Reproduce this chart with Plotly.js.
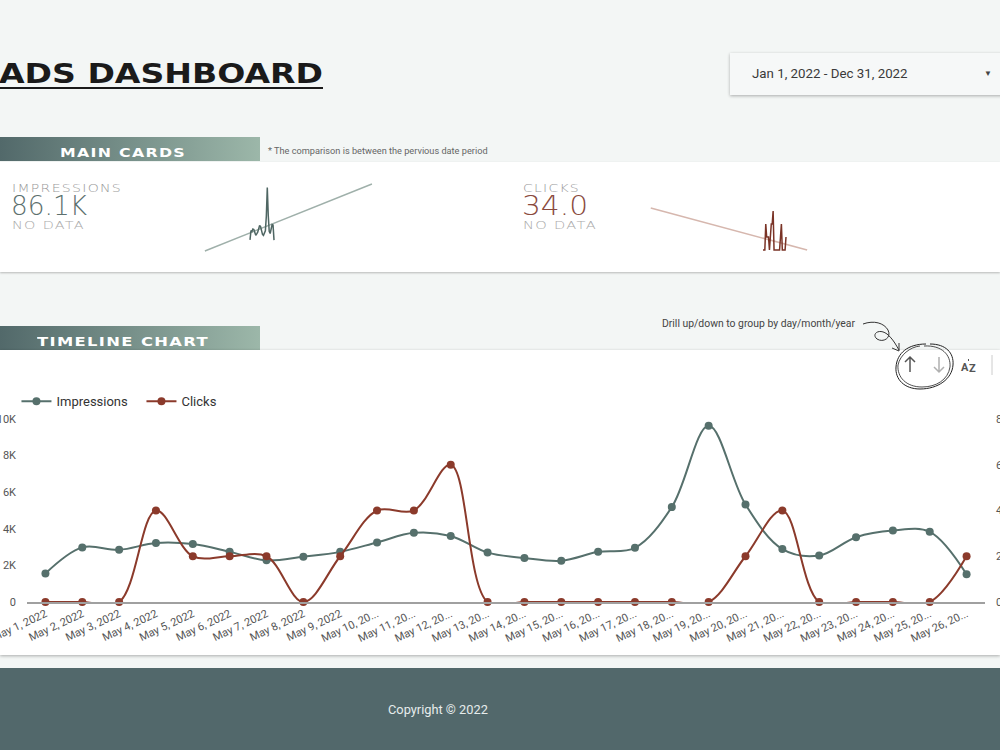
<!DOCTYPE html>
<html>
<head>
<meta charset="utf-8">
<script src="https://cdn.plot.ly/plotly-3.0.1.min.js"></script>
<style>
  html, body { margin:0; padding:0; }
  body { width:1000px; height:750px; overflow:hidden; position:relative; background:#f3f6f5; font-family:Roboto, "Noto Sans", sans-serif; }
  .abs { position:absolute; white-space:nowrap; }
  .fit { display:inline-block; transform-origin:left top; }
  .wide { font-family:"DejaVu Sans", sans-serif; line-height:1; }
</style>
</head>
<body>
<script>
// ---------------- DATA ----------------
const dates = ["2022-05-01","2022-05-02","2022-05-03","2022-05-04","2022-05-05","2022-05-06","2022-05-07","2022-05-08","2022-05-09","2022-05-10","2022-05-11","2022-05-12","2022-05-13","2022-05-14","2022-05-15","2022-05-16","2022-05-17","2022-05-18","2022-05-19","2022-05-20","2022-05-21","2022-05-22","2022-05-23","2022-05-24","2022-05-25","2022-05-26"];
const tickLabels = ["May 1, 2022","May 2, 2022","May 3, 2022","May 4, 2022","May 5, 2022","May 6, 2022","May 7, 2022","May 8, 2022","May 9, 2022","May 10, 20...","May 11, 20...","May 12, 20...","May 13, 20...","May 14, 20...","May 15, 20...","May 16, 20...","May 17, 20...","May 18, 20...","May 19, 20...","May 20, 20...","May 21, 20...","May 22, 20...","May 23, 20...","May 24, 20...","May 25, 20...","May 26, 20..."];
const impressions = [1557,2983,2851,3225,3164,2740,2275,2477,2740,3256,3781,3609,2700,2406,2255,2740,2962,5187,9625,5328,2892,2538,3539,3903,3832,1517];
const clicks = [0,0,0,4,2,2,2,0,2,4,4,6,0,0,0,0,0,0,0,2,4,0,0,0,0,2];
const leftTicks = [0,2000,4000,6000,8000,10000];
const leftTickText = ["0","2K","4K","6K","8K","10K"];
const rightTicks = [0,2,4,6,8];
const impTotal = "86.1K";
const clicksTotal = "34.0";
// sparkline trend lines (endpoints)
const impTrendX = [-47,127];
const impTrendY = [-150,10150];
const clkTrendX = [-122,48];
const clkTrendY = [6.46,0];
</script>

<!-- Title -->
<div class="abs wide" style="left:-1px; top:58px;"><span class="fit" data-w="324" style="font-size:27px; font-weight:bold; color:#1a1a1a; text-decoration:underline; text-decoration-thickness:2px; text-underline-offset:4px; line-height:1.2;">ADS DASHBOARD</span></div>

<!-- Date picker -->
<div class="abs" style="left:730px; top:53px; width:290px; height:42px; background:#f6f8f8; box-shadow:0 1px 3px rgba(0,0,0,0.3);"></div>
<div class="abs" style="left:752px; top:66px; font-size:13.3px; color:#3a3a3a;">Jan 1, 2022 - Dec 31, 2022</div>
<div class="abs" style="left:984px; top:69px; font-size:8px; color:#444;">&#9660;</div>

<!-- Main cards header -->
<div class="abs" style="left:0; top:137px; width:260px; height:24px; background:linear-gradient(to right,#52696a,#9cb7a9);"></div>
<div class="abs wide" style="left:60px; top:144px;"><span class="fit" data-w="126" style="font-size:12px; font-weight:bold; color:#fff; letter-spacing:1px;">MAIN CARDS</span></div>
<div class="abs" style="left:268px; top:145px; font-size:9.2px; color:#666;">* The comparison is between the pervious date period</div>

<!-- Cards white area -->
<div class="abs" style="left:0; top:162px; width:1000px; height:110px; background:#fff; box-shadow:0 1px 2px rgba(0,0,0,0.25);"></div>
<div class="abs wide" style="left:12px; top:179px;"><span class="fit" data-w="110" style="font-size:11px; font-weight:200; color:#999; letter-spacing:1px;">IMPRESSIONS</span></div>
<div class="abs wide" style="left:11px; top:197px; line-height:0.7;"><span class="fit" id="impVal" data-w="76" style="font-size:26px; font-weight:200; color:#5d706e; line-height:0.7;"></span></div>
<div class="abs wide" style="left:12px; top:216px;"><span class="fit" data-w="73" style="font-size:11px; font-weight:200; color:#aaa; letter-spacing:1px;">NO DATA</span></div>

<div class="abs wide" style="left:523px; top:179px;"><span class="fit" data-w="57" style="font-size:11px; font-weight:200; color:#999; letter-spacing:1px;">CLICKS</span></div>
<div class="abs wide" style="left:522px; top:197px; line-height:0.7;"><span class="fit" id="clkVal" data-w="66" style="font-size:26px; font-weight:200; color:#8a4a3d; line-height:0.7;"></span></div>
<div class="abs wide" style="left:523px; top:216px;"><span class="fit" data-w="74" style="font-size:11px; font-weight:200; color:#aaa; letter-spacing:1px;">NO DATA</span></div>

<div id="sparkImp" class="abs" style="left:195px; top:170px; width:190px; height:95px;"></div>
<div id="sparkClk" class="abs" style="left:640px; top:170px; width:180px; height:95px;"></div>

<!-- Timeline header -->
<div class="abs" style="left:0; top:326px; width:260px; height:24px; background:linear-gradient(to right,#52696a,#9cb7a9);"></div>
<div class="abs wide" style="left:37px; top:333px;"><span class="fit" data-w="172" style="font-size:12px; font-weight:bold; color:#fff; letter-spacing:1px;">TIMELINE CHART</span></div>
<div class="abs" style="left:662px; top:317px; font-size:10.4px; color:#444;">Drill up/down to group by day/month/year</div>

<!-- Chart white area -->
<div class="abs" style="left:0; top:350px; width:1000px; height:305px; background:#fff; box-shadow:0 1px 3px rgba(0,0,0,0.3);"></div>
<div id="chart" class="abs" style="left:-60px; top:350px; width:1080px; height:305px;"></div>

<!-- icons & hand-drawn marks -->
<svg class="abs" style="left:850px; top:315px;" width="150" height="90">
  <path d="M60,57 L60,42 M55,47 L60,42 L65,47" fill="none" stroke="#555" stroke-width="1.5"/>
  <path d="M89,42 L89,57 M84,52 L89,57 L94,52" fill="none" stroke="#b0b0b0" stroke-width="1.5"/>
  <text x="111" y="56" font-family="Roboto, sans-serif" font-size="11" font-weight="bold" fill="#555">A</text>
  <text x="119" y="57" font-family="Roboto, sans-serif" font-size="11" font-weight="bold" fill="#555">Z</text>
  <path d="M118.5,44 L118.5,46" stroke="#555" stroke-width="1"/>
  <path d="M142,40 L142,60" stroke="#ccc" stroke-width="1"/>
  <path d="M13,9 C24,5 34,8 38,15 C42,23 33,28 27,24 C21,19 29,13 37,19 C43,24 46,30 49,35" fill="none" stroke="#333" stroke-width="1"/>
  <path d="M42,33 L49,36 L49,28" fill="none" stroke="#333" stroke-width="1"/>
  <path d="M80,29 C96,29 104,38 103,50 C102,64 88,74 70,74 C54,74 45,64 46,52 C47,38 58,29 76,29" fill="none" stroke="#222" stroke-width="1"/>
  <path d="M74,31 C92,30 101,40 100,52 C98,65 86,72 72,72 C56,72 47,62 48,50 C50,40 60,32 70,31" fill="none" stroke="#222" stroke-width="0.8"/>
</svg>

<!-- footer -->
<div class="abs" style="left:0; top:668px; width:1000px; height:82px; background:#52686b;"></div>
<div class="abs" style="left:388px; top:702px; font-size:12.8px; color:#e6ecec;">Copyright &#169; 2022</div>

<script>
document.getElementById('impVal').textContent = impTotal;
document.getElementById('clkVal').textContent = clicksTotal;
document.querySelectorAll('.fit').forEach(el => {
  const target = parseFloat(el.dataset.w);
  const w = el.getBoundingClientRect().width;
  if (w > 0) el.style.transform = 'scaleX(' + (target / w) + ')';
});

const impColor = '#56706c';
const clkColor = '#8b3a2b';

const font = {family:'Roboto, sans-serif', color:'#444'};

Plotly.newPlot('chart', [
  {x: dates, y: impressions, name:'Impressions', type:'scatter', mode:'lines+markers',
   line:{color:impColor, width:2, shape:'spline', smoothing:1}, marker:{color:impColor, size:8}, cliponaxis:false, yaxis:'y'},
  {x: dates, y: clicks, name:'Clicks', type:'scatter', mode:'lines+markers',
   line:{color:clkColor, width:2, shape:'spline', smoothing:1}, marker:{color:clkColor, size:8}, cliponaxis:false, yaxis:'y2'}
], {
  width:1080, height:305,
  margin:{l:86.6, r:35, t:69, b:53},
  paper_bgcolor:'rgba(0,0,0,0)', plot_bgcolor:'rgba(0,0,0,0)',
  font: font,
  showlegend:true,
  legend:{orientation:'h', x:-0.011, xanchor:'left', y:1.015, yanchor:'bottom', font:{size:13, color:'#333'}, entrywidth:80, bgcolor:'rgba(0,0,0,0)'},
  xaxis:{type:'category', range:[-0.5,25.5], autorange:false, automargin:false, tickmode:'array', tickvals:dates, ticktext:tickLabels, tickangle:-25,
         tickfont:{size:11, color:'#555'}, showgrid:false, showline:true, linecolor:'#a0a0a0', linewidth:1.5, ticks:'', zeroline:false},
  yaxis:{range:[0,10000], automargin:false, tickvals:leftTicks, ticktext:leftTickText, showgrid:false, zeroline:false, showline:false, ticks:'',
         tickfont:{size:11, color:'#555'}, ticklabelstandoff:10},
  yaxis2:{range:[0,8], automargin:false, overlaying:'y', side:'right', tickvals:rightTicks, showgrid:false, zeroline:false, showline:false, ticks:'',
         tickfont:{size:11, color:'#555'}, ticklabelstandoff:10}
}, {displayModeBar:false, staticPlot:true});

const idx = dates.map((d,i)=>i);
const sparkLayout = (xr, yr) => ({
  margin:{l:0,r:0,t:0,b:0}, showlegend:false,
  paper_bgcolor:'rgba(0,0,0,0)', plot_bgcolor:'rgba(0,0,0,0)',
  xaxis:{range:xr, visible:false}, yaxis:{range:yr, visible:false}
});
Plotly.newPlot('sparkImp', [
  {x: impTrendX, y: impTrendY, mode:'lines', line:{color:'#9fb0aa', width:1.5}},
  {x: idx, y: impressions, mode:'lines', line:{color:'#4f6663', width:1.5}}
], Object.assign(sparkLayout([-57.3,140.6],[-2300,12300]), {width:190, height:95}), {displayModeBar:false, staticPlot:true});
Plotly.newPlot('sparkClk', [
  {x: clkTrendX, y: clkTrendY, mode:'lines', line:{color:'#d6b7ae', width:1.5}},
  {x: idx, y: clicks, mode:'lines', line:{color:'#7a3326', width:1.5}}
], Object.assign(sparkLayout([-133.7,61.96],[-2.31,12.31]), {width:180, height:95}), {displayModeBar:false, staticPlot:true});
</script>
</body>
</html>
